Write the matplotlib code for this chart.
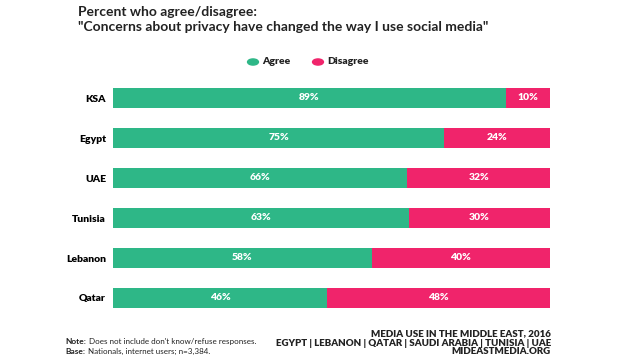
import numpy as np
import matplotlib.pyplot as plt

countries = ["KSA", "Egypt", "UAE", "Tunisia", "Lebanon", "Qatar"]
agree = [89, 75, 66, 63, 58, 46]
disagree = [10, 24, 32, 30, 40, 48]

GREEN = "#2eb787"
PINK = "#f0246b"

plt.rcParams['font.family'] = ['Lato', 'DejaVu Sans']

fig = plt.figure(figsize=(6.4, 3.6), dpi=100)
ax = fig.add_axes([113 / 640, 1 - 318 / 360, 437 / 640, 240 / 360])

y = np.arange(len(countries))
a = np.array(agree, dtype=float)
d = np.array(disagree, dtype=float)
tot = a + d
a_share = a / tot * 100
d_share = d / tot * 100

ax.barh(y, a_share, height=0.5, color=GREEN, edgecolor="none")
ax.barh(y, d_share, left=a_share, height=0.5, color=PINK, edgecolor="none")

for i in range(len(countries)):
    ax.text(a_share[i] / 2, y[i], f"{agree[i]}%", color="white", fontsize=7.5,
            fontweight="heavy", ha="center", va="center")
    ax.text(a_share[i] + d_share[i] / 2, y[i], f"{disagree[i]}%", color="white",
            fontsize=7.5, fontweight="heavy", ha="center", va="center")

ax.set_xlim(0, 100)
ax.set_ylim(len(countries) - 0.5, -0.5)
ax.set_yticks(y)
ax.set_yticklabels(countries, fontsize=7.5, fontweight="heavy")
ax.tick_params(axis="y", length=0, pad=5)
ax.set_xticks([])
for s in ax.spines.values():
    s.set_visible(False)

# title
fig.text(78 / 640, 1 - 12 / 360, "Percent who agree/disagree:", fontsize=10,
         fontweight="bold", color="#222222", va="center", ha="left")
fig.text(78 / 640, 1 - 27 / 360,
         '"Concerns about privacy have changed the way I use social media"',
         fontsize=10, fontweight="bold", color="#222222", va="center", ha="left")

# legend
fig.patches.append(plt.Circle((253 / 640, 1 - 62 / 360), 0.0085, color=GREEN,
                              transform=fig.transFigure, figure=fig))
fig.text(262 / 640, 1 - 62 / 360, "Agree", fontsize=7.5, fontweight="heavy",
         va="center", ha="left", color="#222222")
fig.patches.append(plt.Circle((318 / 640, 1 - 62 / 360), 0.0085, color=PINK,
                              transform=fig.transFigure, figure=fig))
fig.text(327 / 640, 1 - 62 / 360, "Disagree", fontsize=7.5, fontweight="heavy",
         va="center", ha="left", color="#222222")

# footer
note = fig.text(65 / 640, 1 - 344 / 360, "Note:", fontsize=6, fontweight="bold",
                va="baseline", ha="left", color="#222222")
fig.add_artist(plt.Annotation("Does not include don't know/refuse responses.",
                              xy=(1, 0), xycoords=note, xytext=(2, 0),
                              textcoords="offset points", fontsize=5.8,
                              va="bottom", ha="left", color="#222222"))
base = fig.text(65 / 640, 1 - 354 / 360, "Base:", fontsize=6, fontweight="bold",
                va="baseline", ha="left", color="#222222")
fig.add_artist(plt.Annotation("Nationals, internet users; n=3,384.",
                              xy=(1, 0), xycoords=base, xytext=(2, 0),
                              textcoords="offset points", fontsize=5.8,
                              va="bottom", ha="left", color="#222222"))
fig.text(551 / 640, 1 - 334 / 360, "MEDIA USE IN THE MIDDLE EAST, 2016",
         fontsize=7, fontweight="heavy", va="center", ha="right", color="#222222")
fig.text(551 / 640, 1 - 343 / 360, "EGYPT | LEBANON | QATAR | SAUDI ARABIA | TUNISIA | UAE",
         fontsize=7, fontweight="heavy", va="center", ha="right", color="#222222")
fig.text(551 / 640, 1 - 352 / 360, "MIDEASTMEDIA.ORG",
         fontsize=7, fontweight="heavy", va="center", ha="right", color="#222222")

fig.savefig("out.png", dpi=100)
